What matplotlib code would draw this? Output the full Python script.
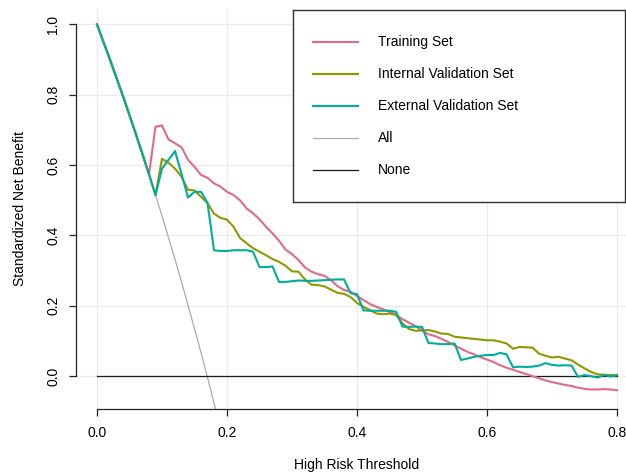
import matplotlib
matplotlib.use("Agg")
import matplotlib.pyplot as plt
import numpy as np

plt.rcParams["font.family"] = ["Liberation Sans", "DejaVu Sans"]

# thresholds 0.00 .. 0.80 in steps of 0.01
thresholds = np.round(np.arange(0, 81) * 0.01, 2)

# treat-all curve (only the visible part, it leaves the plot below 0)
all_x = [0.00, 0.01, 0.02, 0.03, 0.04, 0.05, 0.06, 0.07, 0.08, 0.09,
         0.10, 0.11, 0.12, 0.13, 0.14, 0.15, 0.16, 0.17, 0.18, 0.19]
all_y = [1.000, 0.950, 0.900, 0.848, 0.796, 0.742, 0.687, 0.631, 0.574, 0.515,
         0.456, 0.394, 0.332, 0.268, 0.202, 0.135, 0.067, -0.004, -0.076, -0.150]

training = [
    1.000, 0.950, 0.900, 0.848, 0.796, 0.742, 0.687, 0.631, 0.574, 0.709,
    0.713, 0.673, 0.662, 0.651, 0.615, 0.595, 0.572, 0.564, 0.548, 0.539,
    0.524, 0.515, 0.500, 0.477, 0.463, 0.446, 0.425, 0.406, 0.385, 0.360,
    0.347, 0.330, 0.309, 0.297, 0.290, 0.285, 0.273, 0.256, 0.245, 0.240,
    0.228, 0.216, 0.205, 0.197, 0.190, 0.183, 0.174, 0.162, 0.152, 0.142,
    0.130, 0.119, 0.114, 0.106, 0.097, 0.088, 0.078, 0.069, 0.062, 0.054,
    0.047, 0.040, 0.031, 0.024, 0.018, 0.012, 0.006, 0.000, -0.006, -0.012,
    -0.017, -0.021, -0.025, -0.028, -0.033, -0.036, -0.038, -0.038, -0.037, -0.038,
    -0.040,
]

internal = [
    1.000, 0.950, 0.900, 0.848, 0.796, 0.742, 0.687, 0.631, 0.574, 0.515,
    0.618, 0.607, 0.590, 0.567, 0.530, 0.528, 0.510, 0.492, 0.462, 0.450,
    0.445, 0.425, 0.393, 0.378, 0.364, 0.354, 0.344, 0.333, 0.325, 0.314,
    0.298, 0.297, 0.275, 0.260, 0.259, 0.255, 0.246, 0.237, 0.234, 0.225,
    0.208, 0.197, 0.188, 0.178, 0.176, 0.178, 0.174, 0.150, 0.134, 0.129,
    0.130, 0.131, 0.127, 0.121, 0.120, 0.112, 0.110, 0.108, 0.106, 0.104,
    0.102, 0.102, 0.098, 0.093, 0.078, 0.083, 0.082, 0.081, 0.064, 0.058,
    0.053, 0.055, 0.050, 0.045, 0.033, 0.022, 0.012, 0.005, 0.004, 0.003,
    0.003,
]

external = [
    1.000, 0.950, 0.900, 0.848, 0.796, 0.742, 0.687, 0.631, 0.574, 0.515,
    0.590, 0.615, 0.640, 0.575, 0.508, 0.524, 0.524, 0.493, 0.358, 0.356,
    0.356, 0.358, 0.358, 0.358, 0.354, 0.310, 0.310, 0.312, 0.268, 0.268,
    0.270, 0.272, 0.271, 0.271, 0.272, 0.273, 0.274, 0.275, 0.275, 0.236,
    0.233, 0.187, 0.186, 0.186, 0.186, 0.186, 0.183, 0.141, 0.140, 0.141,
    0.140, 0.094, 0.093, 0.091, 0.091, 0.093, 0.046, 0.050, 0.055, 0.058,
    0.060, 0.060, 0.066, 0.062, 0.025, 0.027, 0.026, 0.027, 0.030, 0.037,
    0.032, 0.030, 0.031, 0.030, -0.002, 0.003, 0.000, -0.004, 0.003, -0.001,
    0.003,
]

labels = ["Training Set", "Internal Validation Set", "External Validation Set", "All", "None"]
colors = ["#E16A86", "#909800", "#00AD9A", "#ABABAB", "#1A1A1A"]

W, H = 626, 475
fig = plt.figure(figsize=(W / 100, H / 100), dpi=100)
# plot region: x 76..626 px, y 9.7..408.5 px (from top)
ax = fig.add_axes([76 / W, (H - 408.5) / H, 550 / W, 398.8 / H])
ax.set_xlim(-0.0323, 0.8138)
ax.set_ylim(-0.092, 1.042)

xt = [0.0, 0.2, 0.4, 0.6, 0.8]
yt = [0.0, 0.2, 0.4, 0.6, 0.8, 1.0]
for v in xt:
    ax.axvline(v, color="#EBEBEB", lw=0.9, zorder=0)
for v in yt:
    ax.axhline(v, color="#EBEBEB", lw=0.9, zorder=0)

ax.plot(all_x, all_y, color=colors[3], lw=0.9, zorder=2)
ax.plot([0, 0.8], [0, 0], color=colors[4], lw=0.9, zorder=2)
ax.plot(thresholds, training, color=colors[0], lw=1.5, zorder=3)
ax.plot(thresholds, internal, color=colors[1], lw=1.5, zorder=3)
ax.plot(thresholds, external, color=colors[2], lw=1.5, zorder=4)

for s in ["top", "right"]:
    ax.spines[s].set_visible(False)
ax.spines["left"].set_bounds(0, 1)
ax.spines["bottom"].set_bounds(0, 0.8)
for s in ["left", "bottom"]:
    ax.spines[s].set_linewidth(0.9)
    ax.spines[s].set_color("#222222")

ax.set_xticks(xt)
ax.set_xticklabels([f"{v:.1f}" for v in xt])
ax.set_yticks(yt)
ax.set_yticklabels([f"{v:.1f}" for v in yt], rotation=90, va="center")
ax.tick_params(axis="both", direction="out", length=5, width=0.9,
               color="#222222", labelsize=10)
ax.tick_params(axis="x", pad=7.5)
ax.tick_params(axis="y", pad=6.5)

fig.text(357 / W, 1 - 465 / H, "High Risk Threshold", ha="center", va="center", fontsize=10)
fig.text(20 / W, 1 - 209 / H, "Standardized Net Benefit", ha="center", va="center",
         rotation=90, fontsize=10)

# legend box in pixel coordinates
lg = fig.add_axes([293 / W, 1 - 202 / H, 332 / W, 192 / H])
lg.set_xlim(293, 625)
lg.set_ylim(202, 10)
lg.set_xticks([])
lg.set_yticks([])
for s in lg.spines.values():
    s.set_linewidth(1.0)
    s.set_color("#333333")
rows = [42, 74, 106, 138, 170]
for i, (lab, col) in enumerate(zip(labels, colors)):
    lw = 1.5 if i < 3 else 0.9
    lg.plot([313, 358], [rows[i], rows[i]], color=col, lw=lw)
    lg.text(378, rows[i], lab, ha="left", va="center", fontsize=10)

fig.savefig("out.png", dpi=100)
